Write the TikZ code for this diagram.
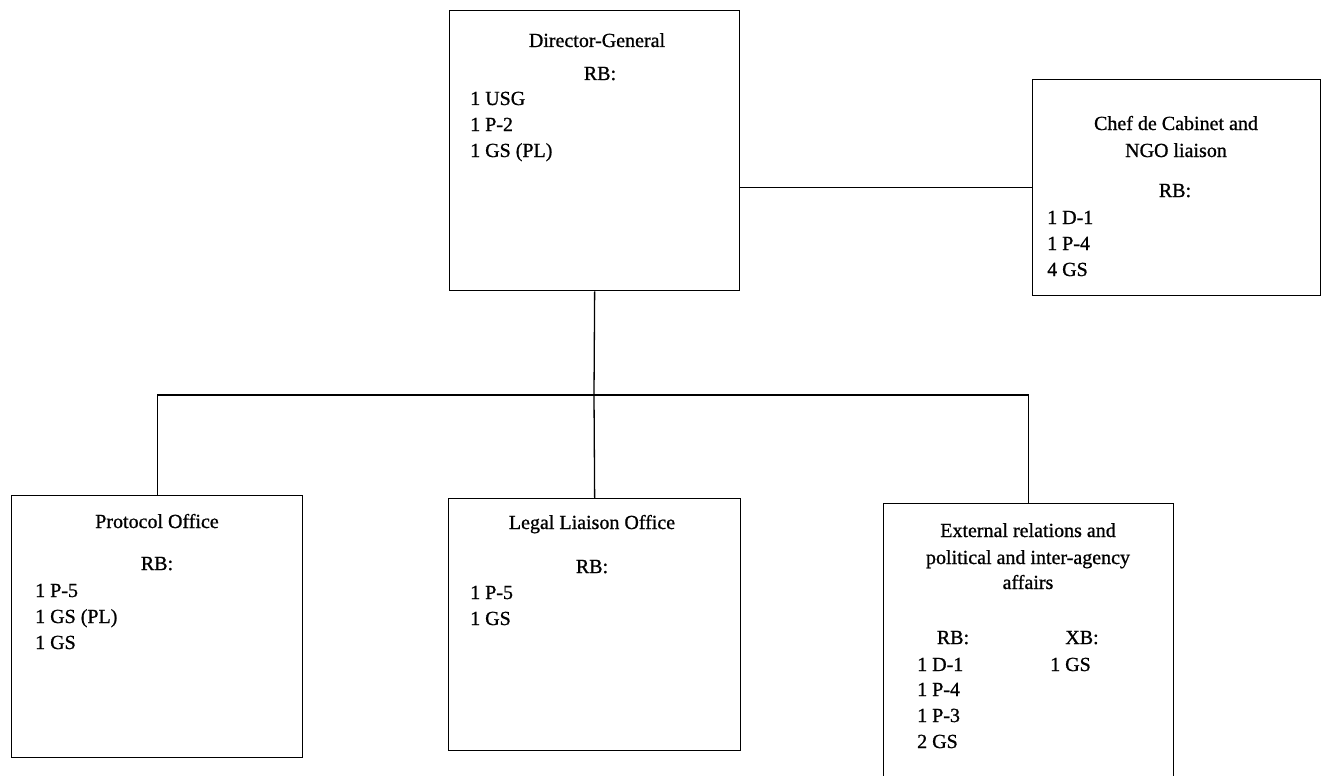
\documentclass[tikz,border=0pt]{standalone}
\usepackage{fontspec}
\setmainfont{Liberation Serif}[FakeBold=0.9]
\begin{document}
\begin{tikzpicture}[x=1pt,y=-1pt,
  unitbox/.style={draw, line width=1.3pt, inner sep=0pt, anchor=north west},
  lbl/.style={font=\fontsize{20}{26}\selectfont, inner sep=0pt, anchor=base},
  item/.style={lbl, anchor=base west},
  link/.style={line width=1.3pt}]
\useasboundingbox (0,0) rectangle (1326,776);
\clip (0,0) rectangle (1326,776);

% unit boxes
\node[unitbox, minimum width=290pt, minimum height=280pt] (dg) at (449,10) {};
\node[unitbox, minimum width=288pt, minimum height=216pt] (chef) at (1032,79) {};
\node[unitbox, minimum width=291pt, minimum height=262pt] (proto) at (11,495) {};
\node[unitbox, minimum width=292pt, minimum height=252pt] (legal) at (448,498) {};
\node[unitbox, minimum width=290pt, minimum height=300pt] (ext) at (883,503) {};

% Director-General
\node[lbl] (dgT) at (597,47) {Director-General};
\node[lbl] (dgRB) at (600,80) {RB:};
\node[item] (dg1) at (470,105) {1 USG};
\node[item] (dg2) at (470,131) {1 P-2};
\node[item] (dg3) at (470,157) {1 GS (PL)};

% Chef de Cabinet
\node[lbl] (chT1) at (1176,130) {Chef de Cabinet and};
\node[lbl] (chT2) at (1176,157) {NGO liaison};
\node[lbl] (chRB) at (1175,197) {RB:};
\node[item] (ch1) at (1047,224) {1 D-1};
\node[item] (ch2) at (1047,250) {1 P-4};
\node[item] (ch3) at (1047,276) {4 GS};

% Protocol Office
\node[lbl] (prT) at (157,528) {Protocol Office};
\node[lbl] (prRB) at (157,570) {RB:};
\node[item] (pr1) at (35,597) {1 P-5};
\node[item] (pr2) at (35,623) {1 GS (PL)};
\node[item] (pr3) at (35,649) {1 GS};

% Legal Liaison Office
\node[lbl] (lgT) at (592,529) {Legal Liaison Office};
\node[lbl] (lgRB) at (592,573) {RB:};
\node[item] (lg1) at (470,599) {1 P-5};
\node[item] (lg2) at (470,625) {1 GS};

% External relations
\node[lbl] (exT1) at (1028,537) {External relations and};
\node[lbl] (exT2) at (1028,564) {political and inter-agency};
\node[lbl] (exT3) at (1028,589) {affairs};
\node[lbl] (exRB) at (953,644) {RB:};
\node[lbl] (exXB) at (1082,644) {XB:};
\node[item] (ex1) at (917,671) {1 D-1};
\node[item] (ex2) at (917,696) {1 P-4};
\node[item] (ex3) at (917,722) {1 P-3};
\node[item] (ex4) at (917,748) {2 GS};
\node[item] (ex5) at (1050,671) {1 GS};

% connectors
\coordinate (bus) at (594,395);
\draw[link] (dg.east |- chef.west) -- (chef.west);
\draw[link] (dg.south) -- (bus);
\draw[link] (bus) -- (legal.north);
\draw[link] (proto.north) -- (proto.north |- bus) -- (ext.north |- bus) -- (ext.north);
\end{tikzpicture}
\end{document}
